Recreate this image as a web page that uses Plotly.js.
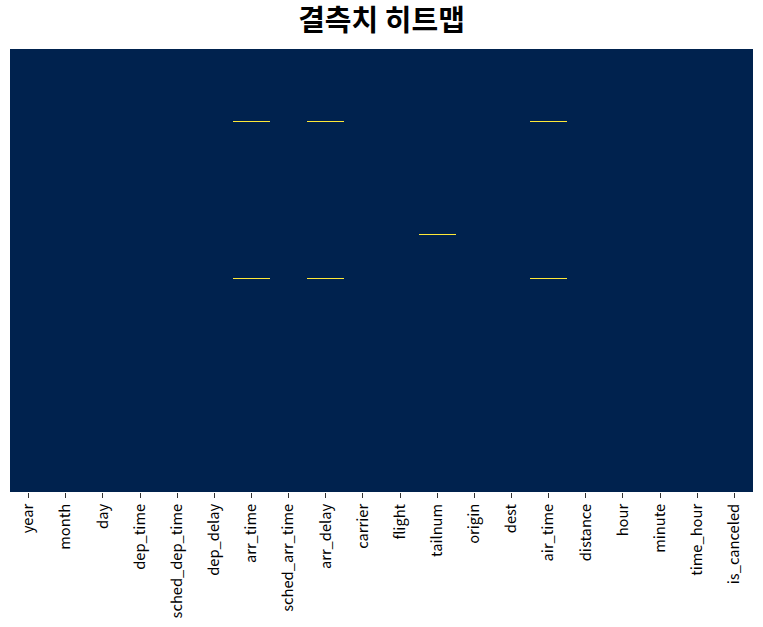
<!DOCTYPE html>
<html>
<head>
<meta charset="utf-8">
<script src="https://cdn.plot.ly/plotly-3.0.1.min.js"></script>
<style>html,body{margin:0;padding:0;background:#fff;}</style>
</head>
<body>
<div id="chart" style="width:763px;height:627px;"></div>
<script>
// Column names (x categories)
const columns = ["year","month","day","dep_time","sched_dep_time","dep_delay","arr_time","sched_arr_time","arr_delay","carrier","flight","tailnum","origin","dest","air_time","distance","hour","minute","time_hour","is_canceled"];
// Number of row bins shown in the heatmap
const nRows = 443;
// Row bins containing missing values, per column
const missingArrTime = [72, 229];
const missingArrDelay = [72, 229];
const missingAirTime = [72, 229];
const missingTailnum = [185];

const missingByColumn = {
  "arr_time": missingArrTime,
  "arr_delay": missingArrDelay,
  "air_time": missingAirTime,
  "tailnum": missingTailnum
};

const rowIdx = [];
for (let r = 0; r < nRows; r++) rowIdx.push(r);
const z = rowIdx.map(r => columns.map(c => (missingByColumn[c] && missingByColumn[c].includes(r)) ? 1 : 0));

const trace = {
  type: "heatmap",
  x: columns,
  y: rowIdx,
  z: z,
  zmin: 0, zmax: 1,
  colorscale: [[0, "#00224e"], [1, "#fee838"]],
  showscale: false,
  xgap: 0, ygap: 0,
  hoverinfo: "skip"
};

const layout = {
  width: 763, height: 627,
  margin: {l: 10, r: 10, t: 49, b: 135},
  paper_bgcolor: "#ffffff",
  plot_bgcolor: "#ffffff",
  title: {
    text: "<b>결측치 히트맵</b>",
    font: {family: "Noto Sans CJK KR", size: 29, color: "#000"},
    x: 0.5, xanchor: "center", y: 0.967, yanchor: "middle"
  },
  xaxis: {
    type: "category",
    tickangle: -90,
    ticks: "outside", ticklen: 5, tickwidth: 1, tickcolor: "#333",
    tickfont: {family: "Noto Sans CJK KR", size: 14.7, color: "#000"},
    showgrid: false, zeroline: false, showline: false
  },
  yaxis: {
    autorange: "reversed",
    showticklabels: false, ticks: "",
    showgrid: false, zeroline: false, showline: false
  }
};

Plotly.newPlot("chart", [trace], layout, {staticPlot: true, displayModeBar: false});
</script>
</body>
</html>
